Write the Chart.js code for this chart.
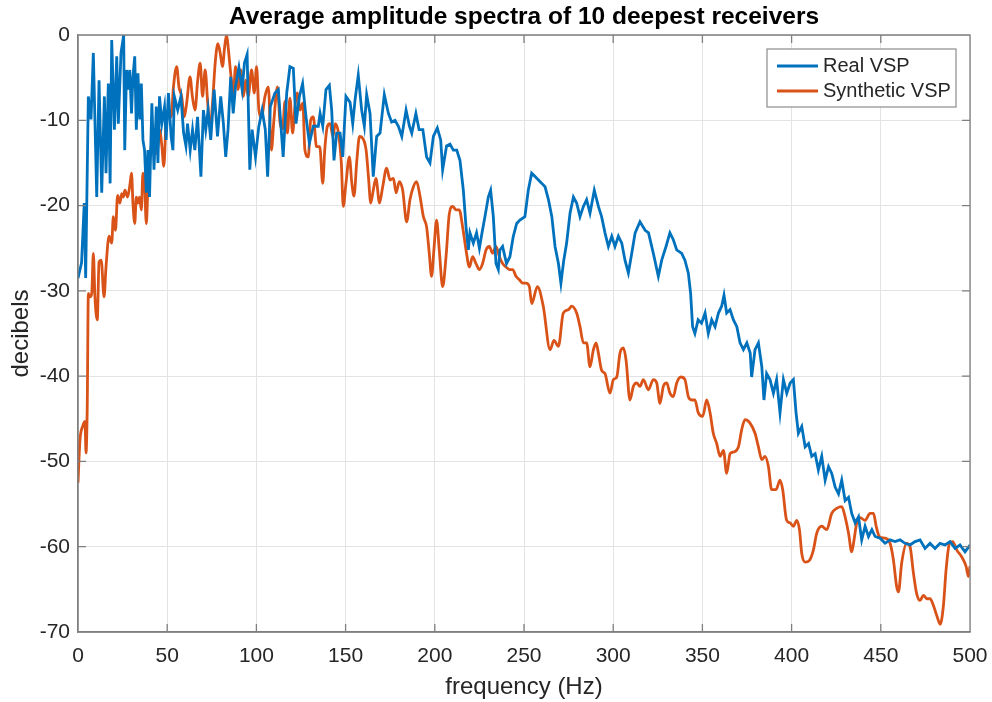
<!DOCTYPE html>
<html>
<head>
<meta charset="utf-8">
<script src="https://cdn.jsdelivr.net/npm/chart.js@4.4.1/dist/chart.umd.min.js"></script>
<style>
  html, body { margin: 0; padding: 0; background: #fff; }
  #wrap { width: 992px; height: 702px; }
</style>
</head>
<body>
<div id="wrap"><canvas id="spectra" width="992" height="702"></canvas></div>
<script>
// Average amplitude spectra (dB) of the 10 deepest receivers, real vs synthetic
const realFreq = [
  0, 2, 3.5, 4.3, 5.8, 7.3, 8.6, 10.5, 11.8, 13.3,
  14.8, 15.7, 17, 18, 18.9, 20.4, 21.7, 22.6, 24.1, 25.6,
  26.2, 27.2, 28.1, 29, 30, 30.8, 31.8, 32.7, 33.6, 34.6,
  35.5, 36.4, 37.3, 38.3, 39.2, 40.1, 41.4, 42.6, 43.9, 44.8,
  45.7, 47, 48.5, 49.4, 50.7, 52.2, 53.2, 54, 55.9, 57.7,
  59.2, 60.5, 61.4, 62.9, 64.2, 65.5, 67, 68.9, 70.3, 71.6,
  72.9, 74.4, 76.3, 78.2, 80, 81.5, 82.8, 84.1, 85.6, 87,
  88.3, 90.2, 92, 93.3, 94.8, 96.3, 97.6, 99.5, 101.3, 103.2,
  105, 106.3, 107.8, 110.4, 112.3, 115, 117, 118.8, 120.7, 122.2,
  124.1, 125.9, 127.8, 129.7, 131.9, 134.7, 135.7, 137.2, 139, 140.9,
  142.2, 143.5, 145, 146.9, 148.4, 150.2, 152.5, 154, 155.3, 157.1,
  159, 160.5, 161.8, 163.7, 165.5, 167.4, 169.3, 171.7, 174, 175.8,
  177.7, 179.6, 181.5, 183.9, 185.8, 187.1, 189.4, 191.2, 193.3, 195.4,
  197.3, 199.2, 201.4, 203.3, 204.4, 206.6, 208.5, 210.4, 212.3, 214.1,
  216, 217.5, 218.8, 219.7, 221.6, 223.4, 225, 226.3, 228.1, 230,
  231.3, 232.8, 234.3, 235.6, 236.5, 238, 240.2, 242.1, 244, 245.9,
  247.7, 250.5, 252.4, 254.3, 256.2, 258.1, 260, 261.8, 263.7, 265.6,
  267.4, 269.3, 270.7, 272.3, 273.9, 275.8, 277.7, 279.5, 281.4, 283.3,
  285.1, 287, 289.4, 291.7, 293.5, 295.4, 297.3, 299.2, 301, 302.9,
  304.8, 306.6, 308.5, 310.4, 312.3, 315, 317.9, 319.8, 322.5, 325.3,
  327.2, 329.6, 331.8, 333.7, 335.6, 338.4, 340.2, 342.1, 343.4, 344.5,
  345.8, 347.6, 349.5, 351.5, 353.3, 355.2, 357.1, 359, 360.8, 362.1,
  363.6, 365.5, 367.4, 369.3, 371.1, 373, 374.9, 376.8, 377.6, 379.5,
  381.4, 383.3, 384.5, 386, 387.9, 389.8, 391.6, 393.5, 395.4, 397.3,
  399.2, 401, 402.5, 403.8, 405.7, 407.6, 409.5, 411.3, 413.2, 415,
  416.9, 418.8, 420.7, 422.5, 424.4, 426.3, 428.1, 430, 431.9, 433.7,
  435.6, 437.5, 439.3, 441.2, 443.1, 445, 446.8, 449.6, 452.4, 455.2,
  458, 460.8, 463.6, 466.4, 469.2, 472, 474.8, 477.6, 480.4, 483.2,
  486, 488.8, 491.6, 494.4, 497.2, 500
];
const realDb = [
  -28.5, -26.7, -19.7, -28.5, -7.2, -9.9, -2.1, -19, -5.3, -18.5,
  -7.2, -16.2, -5.7, -17.4, -0.6, -11.1, -2.5, -10.4, -2.1, 0,
  -13.5, -4.1, -6.4, -4.1, -9.2, -4.9, -2.5, -11.1, -4.5, -9.9,
  -5.7, -12.3, -13.5, -18.5, -13.5, -19, -8, -15.8, -8.4, -15,
  -7.2, -10.4, -8.4, -12.3, -6.8, -11.9, -13.5, -7.2, -8.8, -7.2,
  -11.5, -13, -10.4, -13.5, -11.1, -13.5, -9.6, -16.6, -8.8, -11.1,
  -8.8, -12.3, -6.4, -11.9, -7.2, -10.4, -14.3, -11.1, -4.9, -9.2,
  -6, -3.8, -6.4, -3.3, -2.3, -15.8, -11.1, -14.3, -10.8, -8.8,
  -11.1, -16.6, -8.4, -6.8, -6.4, -14.3, -6.8, -3.7, -3.9, -10.4,
  -7.2, -5.7, -9.6, -12.7, -10.7, -10.7, -9.2, -10.7, -6.4, -5.9,
  -8.8, -14.7, -11.5, -11.5, -14.3, -7.2, -7.9, -10.4, -7.6, -4.7,
  -8.8, -10.7, -7, -9.2, -16.6, -11.9, -11.5, -7, -9.2, -10.2,
  -10, -10.7, -11.9, -8.8, -10.7, -11.5, -9.2, -11.1, -11.1, -14.3,
  -15, -11.9, -10.9, -12.3, -15.8, -13, -12.8, -13.5, -13.5, -14.7,
  -18.2, -22.5, -25.2, -23.2, -24.4, -23.2, -25, -23.4, -21.3, -19,
  -18.2, -21.3, -26.8, -27.5, -25.2, -24.8, -26.8, -26, -23.6, -22.1,
  -21.7, -21.3, -18.2, -16.2, -16.6, -17, -17.4, -17.8, -19.3, -21.3,
  -24.8, -26.8, -29.1, -26.4, -24.4, -20.9, -19, -19.7, -21.3, -20.1,
  -19.3, -20.9, -18.2, -20.1, -21.3, -23.2, -24.8, -23.6, -24.8, -23.6,
  -24.4, -26.4, -27.9, -25.6, -23.2, -21.9, -22.9, -23.2, -25.6, -28.3,
  -26.4, -24.8, -23.2, -24, -25.2, -25.6, -26.4, -27.9, -30.3, -34.2,
  -35, -33.4, -33.8, -32.6, -35, -33.4, -34.2, -32.6, -31.8, -30.5,
  -32.6, -32.2, -33.4, -34.2, -36.1, -36.9, -36.1, -37.3, -40.1, -36.9,
  -36.1, -38.9, -42.8, -39.7, -40.4, -42, -40.4, -44.3, -40.4, -42,
  -40.8, -40.4, -44.3, -46.7, -45.9, -48.3, -47.9, -49.4, -49.1, -51,
  -49.4, -52.2, -50.6, -51.4, -53, -53.8, -52.2, -54.6, -54.2, -56.1,
  -57.2, -56.5, -59.2, -57.6, -58.8, -58, -58.8, -59, -59.6, -59.2,
  -59.4, -59.2, -59.6, -59.8, -59.4, -59.2, -60.2, -59.6, -60.2, -59.6,
  -59.8, -59.4, -60.2, -59.8, -60.6, -59.8
];

const synthFreq = [
  0, 1.1, 2.6, 3.9, 4.5, 5.2, 5.8, 6.7, 7.7, 8.6,
  9.5, 10.8, 11.8, 13, 14.6, 15.7, 17.4, 18.9, 19.8, 21,
  22.2, 23.5, 24.5, 25.4, 26.3, 27.8, 29.2, 30, 30.8, 31.8,
  32.7, 33.6, 34.5, 35.5, 36.4, 37.3, 38.3, 39.2, 40.1, 41.1,
  42.6, 43.9, 44.8, 45.7, 47, 48.1, 49.4, 50.7, 52.2, 53.5,
  55.3, 56.6, 58.1, 59.6, 60.9, 62.8, 64.1, 65.6, 67.1, 68.5,
  69.8, 71.3, 72.7, 74.1, 75.4, 76.9, 78.4, 79.7, 81, 82.2,
  83.3, 84.3, 85.6, 87.1, 88.3, 89.8, 91.2, 92.7, 94, 95.4,
  97.3, 98.8, 100.1, 101.4, 102.9, 104.8, 106.7, 108.4, 109.8, 111.8,
  113.2, 114.7, 116, 117.4, 118.8, 120.3, 121.6, 123, 124.5, 126,
  127.2, 129.1, 130.4, 131.9, 133.7, 135.5, 137.2, 138.3, 139.8, 141.3,
  142.9, 144.2, 146, 147.6, 148.7, 150.2, 152.1, 153.5, 154.7, 156.3,
  157.8, 159.6, 161.5, 162.8, 164.1, 165.5, 167, 169, 170.8, 173,
  174.9, 176.8, 178.3, 180.1, 182, 184.2, 186.1, 188, 189.8, 191.7,
  193.6, 195.4, 196.9, 198.2, 199.5, 201, 202.5, 204.4, 206.3, 208.1,
  210, 211.9, 213.7, 215.6, 217.5, 219.4, 221.2, 223.1, 225, 226.8,
  228.7, 230.6, 232.4, 234.3, 236.2, 238, 239.9, 241.8, 243.7, 245.5,
  247.4, 249.3, 251.1, 253, 254.3, 257.5, 260.8, 264.6, 266.8, 269.3,
  272, 274.9, 276.7, 279.5, 281.4, 283.3, 285.1, 287, 288.9, 290.4,
  291.7, 293.5, 295.4, 298.2, 300.1, 302, 303.8, 305.7, 307.2, 309.4,
  311.3, 313.2, 315, 316.9, 319.7, 322.5, 324.4, 326.2, 328.1, 330,
  331.8, 333.7, 335.6, 337.9, 340.2, 342.1, 344, 345.8, 347.7, 350.2,
  352.4, 354.3, 356.1, 358, 359.9, 361.8, 363.6, 365.5, 367.4, 370.2,
  372, 373.9, 376.7, 379.5, 381.4, 383.3, 385.1, 387, 388.8, 391.3,
  393.5, 395, 397.2, 399.1, 401, 402.9, 404.4, 405.7, 407.6, 410,
  412.2, 414.1, 416.9, 419.7, 422.5, 425.3, 428.1, 430, 431.9, 433.7,
  435, 436.5, 438.4, 441.2, 444, 445.9, 447.4, 449.2, 452.4, 455.2,
  457.1, 458.9, 459.9, 461.7, 464.5, 466.4, 468.3, 470.1, 472, 473.9,
  475.8, 477.6, 479.5, 481.4, 483.3, 485.1, 486.6, 488.5, 490.3, 492.6,
  495.4, 497.8, 499.1, 500
];
const synthDb = [
  -52.5, -47.5, -45.9, -45.3, -49, -43.2, -30.3, -30.7, -30.3, -25.6,
  -30.7, -33.4, -26.6, -26.4, -30.7, -27.2, -23.6, -24.4, -21.3, -22.9,
  -18.8, -19.7, -18.6, -19, -18.2, -19, -17.4, -16.2, -19.7, -22.1,
  -19, -19.7, -19, -20.5, -16.2, -17.4, -22.1, -17.8, -15, -13,
  -12.3, -13.9, -13, -11.1, -13, -15.4, -10, -8.8, -9.6, -6.1,
  -3.7, -6.1, -7.2, -9.6, -8, -4.9, -7.2, -8.8, -5.3, -3.3,
  -7.2, -4.1, -8, -10.8, -8, -3.3, -1, -2.1, -3.7, -1.4,
  0, -1.7, -4.5, -6.8, -3.7, -6.4, -4.1, -7.2, -5.3, -7.2,
  -4.1, -6.8, -3.7, -8.8, -9.6, -7.2, -6.1, -13.5, -10, -6.1,
  -10.2, -11, -7.8, -11.5, -7.4, -11.5, -8.4, -6.8, -8.8, -8,
  -13.5, -14.3, -10, -9.6, -13.1, -13.1, -17.4, -13.5, -10.7, -10.4,
  -11.9, -10.4, -11.5, -15, -20.1, -17.4, -14.3, -17.4, -18.9, -14.7,
  -11.9, -12.1, -13.5, -16.6, -19.7, -18.2, -16.8, -19.7, -17.8, -15.6,
  -17, -16.8, -18.5, -17.2, -18.2, -21.9, -19.3, -17.8, -17.2, -18.9,
  -21.3, -22.5, -25.6, -28.3, -25.2, -21.7, -25.2, -29.5, -26, -21,
  -20.1, -20.5, -20.5, -22.5, -25.2, -27.2, -26, -26.8, -27.5, -26.8,
  -25.2, -24.8, -25.6, -24.8, -26, -26.8, -27.2, -27.5, -27.5, -28.3,
  -28.7, -29.1, -29.1, -29.5, -31.5, -29.5, -31.8, -36.9, -35.8, -36.5,
  -32.6, -32.2, -31.8, -32.6, -34.2, -36.1, -36.1, -38.9, -36.9, -36.1,
  -37.3, -39.3, -39.7, -42, -40.4, -40.1, -37.3, -36.7, -38.1, -42.8,
  -41.2, -40.8, -41.2, -40.4, -41.6, -40.4, -40.8, -43.2, -41.2, -40.8,
  -42, -42.4, -40.8, -40.1, -40.4, -42.4, -42.8, -42.8, -44.3, -44.7,
  -42.8, -44.3, -46.7, -47.9, -49.4, -48.7, -51.4, -49.1, -48.9, -48.3,
  -46.3, -45.1, -45.5, -46.7, -48.3, -49.8, -49.4, -50.6, -53.3, -53.3,
  -52.2, -53.3, -56.9, -57.2, -57.6, -56.9, -58, -60.8, -61.8, -61.6,
  -60.4, -58.4, -57.6, -58, -56.1, -55.5, -55.3, -56.5, -58.4, -60.6,
  -59.2, -57.2, -56.6, -56.9, -56.1, -56.1, -57.6, -58.8, -59, -59.6,
  -61.6, -64.7, -65.3, -61.9, -59.6, -60, -63.1, -65.5, -66.3, -65.7,
  -66.1, -66.1, -66.9, -68.1, -69.1, -66.9, -62.7, -59.6, -59.4, -60.4,
  -61.2, -62.3, -63.5, -62.3
];

const freqTicks = [0, 50, 100, 150, 200, 250, 300, 350, 400, 450, 500];
const dbTicks = [-70, -60, -50, -40, -30, -20, -10, 0];

const FONT = '"Liberation Sans", Arial, Helvetica, sans-serif';
const AXIS_GRAY = '#7f7f7f';

const toPoints = (xs, ys) => xs.map((f, i) => ({ x: f, y: ys[i] }));

// MATLAB-style box: full frame plus short inward ticks on all four sides
const frameTicks = {
  id: 'frameTicks',
  afterDraw(chart) {
    const { ctx, chartArea: a, scales: { x, y } } = chart;
    const len = 8;
    ctx.save();
    ctx.strokeStyle = AXIS_GRAY;
    ctx.lineWidth = 1.3;
    ctx.beginPath();
    ctx.rect(a.left, a.top, a.right - a.left, a.bottom - a.top);
    x.ticks.forEach(t => {
      const px = x.getPixelForValue(t.value);
      ctx.moveTo(px, a.bottom); ctx.lineTo(px, a.bottom - len);
      ctx.moveTo(px, a.top); ctx.lineTo(px, a.top + len);
    });
    y.ticks.forEach(t => {
      const py = y.getPixelForValue(t.value);
      ctx.moveTo(a.left, py); ctx.lineTo(a.left + len, py);
      ctx.moveTo(a.right, py); ctx.lineTo(a.right - len, py);
    });
    ctx.stroke();
    ctx.restore();
  }
};

// boxed legend in the top-right corner of the axes
const boxLegend = {
  id: 'boxLegend',
  afterDraw(chart) {
    const { ctx, chartArea: a } = chart;
    const w = 189, h = 58;
    const left = a.right - 14 - w, top = a.top + 14;
    ctx.save();
    ctx.fillStyle = '#ffffff';
    ctx.fillRect(left, top, w, h);
    ctx.strokeStyle = '#8c8c8c';
    ctx.lineWidth = 1.2;
    ctx.strokeRect(left, top, w, h);
    ctx.font = '20px ' + FONT;
    ctx.textBaseline = 'middle';
    ctx.textAlign = 'left';
    chart.data.datasets.forEach((ds, i) => {
      const yy = top + 17 + i * 25;
      ctx.strokeStyle = ds.borderColor;
      ctx.lineWidth = 2.8;
      ctx.beginPath();
      ctx.moveTo(left + 10, yy);
      ctx.lineTo(left + 51, yy);
      ctx.stroke();
      ctx.fillStyle = '#262626';
      ctx.fillText(ds.label, left + 56, yy);
    });
    ctx.restore();
  }
};

new Chart(document.getElementById('spectra'), {
  type: 'line',
  data: {
    datasets: [
      {
        label: 'Real VSP',
        data: toPoints(realFreq, realDb),
        borderColor: '#0072BD',
        borderWidth: 2.8,
        pointRadius: 0,
        tension: 0
      },
      {
        label: 'Synthetic VSP',
        data: toPoints(synthFreq, synthDb),
        borderColor: '#D95319',
        borderWidth: 2.8,
        pointRadius: 0,
        cubicInterpolationMode: 'monotone'
      }
    ]
  },
  options: {
    responsive: false,
    animation: false,
    devicePixelRatio: 1,
    layout: { padding: { left: 0, right: 22, top: 0, bottom: 0 } },
    plugins: {
      legend: { display: false },
      tooltip: { enabled: false },
      title: {
        display: true,
        text: 'Average amplitude spectra of 10 deepest receivers',
        fullSize: false,
        color: '#000000',
        font: { family: FONT, size: 24.5, weight: 'bold', lineHeight: 1.2 },
        padding: { top: 3, bottom: 2.6 }
      }
    },
    scales: {
      x: {
        type: 'linear',
        min: 0,
        max: 500,
        afterBuildTicks: s => { s.ticks = freqTicks.map(v => ({ value: v })); },
        afterFit: s => { s.height = 70; s.paddingLeft = 0; s.paddingRight = 0; },
        grid: { color: '#e3e3e3', lineWidth: 1, drawTicks: false },
        border: { display: true, color: AXIS_GRAY, width: 1.3 },
        ticks: {
          color: '#262626',
          padding: 12,
          maxRotation: 0,
          font: { family: FONT, size: 21 }
        },
        title: {
          display: true,
          text: 'frequency (Hz)',
          color: '#262626',
          font: { family: FONT, size: 24, lineHeight: 1.2 },
          padding: { top: 0, bottom: 0 }
        }
      },
      y: {
        type: 'linear',
        min: -70,
        max: 0,
        afterBuildTicks: s => { s.ticks = dbTicks.map(v => ({ value: v })); },
        afterFit: s => { s.width = 78; s.paddingTop = 0; s.paddingBottom = 0; },
        grid: { color: '#e3e3e3', lineWidth: 1, drawTicks: false },
        border: { display: true, color: AXIS_GRAY, width: 1.3 },
        ticks: {
          color: '#262626',
          padding: 8,
          font: { family: FONT, size: 21 }
        },
        title: {
          display: true,
          text: 'decibels',
          color: '#262626',
          font: { family: FONT, size: 24, lineHeight: 1.2 },
          padding: { top: 7, bottom: 0 }
        }
      }
    }
  },
  plugins: [frameTicks, boxLegend]
});
</script>
</body>
</html>
